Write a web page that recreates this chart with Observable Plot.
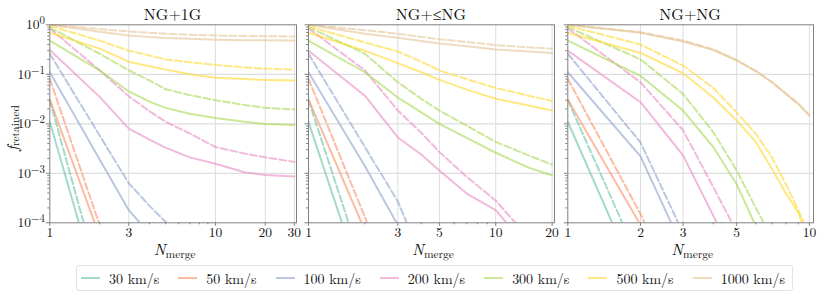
<!DOCTYPE html>
<html>
<head>
<meta charset="utf-8">
<script src="https://cdn.jsdelivr.net/npm/d3@7"></script>
<script src="https://cdn.jsdelivr.net/npm/@observablehq/plot@0.6"></script>
<style>
  html, body { margin: 0; padding: 0; background: #fff; }
  #root { position: relative; width: 830px; height: 305px; overflow: hidden;
    font-family: "Latin Modern Roman", "Liberation Serif", serif; color: #111; }
  .panel { position: absolute; top: 0; }
  #overlay { position: absolute; left: 0; top: 0; pointer-events: none; }
  #legend { position: absolute; left: 76px; top: 265px; width: 717px; height: 26px; box-sizing: border-box;
    border: 1px solid #e3e3e3; border-radius: 3px; display: flex; align-items: center; justify-content: space-between;
    padding: 0 7px 0 4px; font-size: 14px; font-family: "Latin Modern Roman", "Liberation Serif", serif; }
  .item { display: flex; align-items: center; white-space: nowrap; }
  .swatch { width: 19px; height: 2px; margin-right: 9px; }
</style>
</head>
<body>
<div id="root">
  <div id="legend"></div>
</div>
<script>
// ---------------- data ----------------
const speeds = [30, 50, 100, 200, 300, 500, 1000];
const legendLabels = ["30 km/s", "50 km/s", "100 km/s", "200 km/s", "300 km/s", "500 km/s", "1000 km/s"];
const colors = ["#66c2a5", "#fc8d62", "#8da0cb", "#e78ac3", "#a6d854", "#ffd92f", "#e5c494"];
const panelTitles = ["NG+1G", "NG+\u2264NG", "NG+NG"];

const yTicks = [1e-4, 1e-3, 1e-2, 1e-1, 1];
const yTickLabels = ["10^{\u22124}", "10^{\u22123}", "10^{\u22122}", "10^{\u22121}", "10^{0}"];

const xTicks1 = [1, 3, 10, 20, 30];
const xTicks2 = [1, 3, 5, 10, 20];
const xTicks3 = [1, 2, 3, 5, 10];

// NG+1G
const n1 = [1, 2, 3, 4, 5, 7, 10, 15, 20, 30];
const ng1g_solid = [
  [0.011, 3.5e-6],
  [0.031, 5.3e-5],
  [0.11, 0.0019, 1.8e-4, 6e-5],
  [0.31, 0.035, 0.008, 0.0048, 0.0033, 0.0021, 0.00156, 0.00105, 0.00092, 0.00086],
  [0.48, 0.12, 0.045, 0.028, 0.021, 0.016, 0.0131, 0.011, 0.0099, 0.0095],
  [0.69, 0.33, 0.18, 0.145, 0.125, 0.1, 0.085, 0.08, 0.077, 0.075],
  [1.0, 0.72, 0.61, 0.57, 0.54, 0.52, 0.50, 0.49, 0.485, 0.48]
];
const ng1g_dashed = [
  [0.03, 6.8e-6],
  [0.081, 9e-5],
  [0.26, 0.0058, 6.3e-4, 2.2e-4, 1.05e-4, 3e-5],
  [0.85, 0.12, 0.036, 0.018, 0.011, 0.0064, 0.0034, 0.0025, 0.0021, 0.0017],
  [0.88, 0.26, 0.12, 0.075, 0.05, 0.038, 0.03, 0.024, 0.021, 0.0195],
  [0.95, 0.48, 0.30, 0.24, 0.2, 0.175, 0.155, 0.138, 0.13, 0.125],
  [1.0, 0.82, 0.73, 0.69, 0.66, 0.63, 0.61, 0.595, 0.59, 0.58]
];

// NG+<=NG
const n2 = [1, 2, 3, 4, 5, 7, 10, 15, 20];
const nglng_solid = [
  [0.011, 4e-6],
  [0.031, 7e-5],
  [0.11, 0.0014, 9e-5],
  [0.30, 0.037, 0.0053, 0.0024, 0.00114, 3.9e-4, 1.8e-4, 3e-5],
  [0.48, 0.11, 0.034, 0.017, 0.01, 0.0052, 0.0026, 0.0013, 0.0009],
  [0.69, 0.30, 0.168, 0.11, 0.077, 0.049, 0.032, 0.0235, 0.0185],
  [1.0, 0.66, 0.545, 0.47, 0.42, 0.37, 0.317, 0.29, 0.27]
];
const nglng_dashed = [
  [0.03, 1e-5],
  [0.081, 1.3e-4, 3e-6],
  [0.26, 0.0034, 2.7e-4, 2e-5],
  [0.85, 0.12, 0.0185, 0.0066, 0.0027, 8.5e-4, 2.8e-4, 5e-5],
  [0.9, 0.26, 0.069, 0.032, 0.0185, 0.0092, 0.0043, 0.0023, 0.0015],
  [0.93, 0.44, 0.29, 0.18, 0.12, 0.08, 0.053, 0.037, 0.029],
  [1.0, 0.78, 0.66, 0.57, 0.51, 0.45, 0.39, 0.35, 0.33]
];

// NG+NG
const n3 = [1, 2, 3, 4, 5, 6, 7, 8, 9, 10];
const ngng_solid = [
  [0.011, 5e-6],
  [0.031, 9e-5],
  [0.11, 0.0022, 3e-5],
  [0.30, 0.0273, 0.0023, 1.4e-4, 1.6e-5],
  [0.48, 0.093, 0.0185, 0.0034, 6e-4, 8.6e-5],
  [0.69, 0.27, 0.105, 0.034, 0.0117, 0.0043, 0.00122, 3.9e-4, 1.6e-4, 4e-5],
  [1.0, 0.69, 0.46, 0.31, 0.19, 0.115, 0.069, 0.04, 0.025, 0.0147]
];
const ngng_dashed = [
  [0.03, 1.5e-5],
  [0.081, 1.5e-4, 2e-6],
  [0.26, 0.0042, 6.2e-5],
  [0.85, 0.069, 0.0074, 5.3e-4, 6.6e-5],
  [0.9, 0.2, 0.04, 0.0068, 0.00114, 2.0e-4, 4.9e-5],
  [0.95, 0.40, 0.15, 0.053, 0.017, 0.0063, 0.0021, 6e-4, 1.8e-4, 5.7e-5],
  [1.0, 0.71, 0.48, 0.32, 0.195, 0.118, 0.07, 0.041, 0.0255, 0.015]
];

// ---------------- drawing ----------------
const FONT = "Latin Modern Roman, Liberation Serif, serif";
const root = document.getElementById("root");
const AXIS = "#808080";
const GRID = "#dddddd";

function minorTicks(lo, hi) {
  const out = [];
  for (let e = Math.floor(Math.log10(lo)); e <= Math.ceil(Math.log10(hi)); e++) {
    for (let k = 2; k <= 9; k++) {
      const v = k * Math.pow(10, e);
      if (v > lo && v < hi) out.push(v);
    }
  }
  return out;
}

function panel(cfg) {
  const rows = [];
  speeds.forEach((s, i) => {
    cfg.solid[i].forEach((v, j) => rows.push({N: cfg.n[j], f: v, speed: s, style: "solid"}));
    cfg.dashed[i].forEach((v, j) => rows.push({N: cfg.n[j], f: v, speed: s, style: "dashed"}));
  });
  const lineMarks = speeds.flatMap(s => [
    Plot.line(rows.filter(r => r.speed === s && r.style === "solid"),
      {x: "N", y: "f", stroke: "speed", strokeWidth: 2, strokeOpacity: 0.6, clip: true}),
    Plot.line(rows.filter(r => r.speed === s && r.style === "dashed"),
      {x: "N", y: "f", stroke: "speed", strokeWidth: 2, strokeOpacity: 0.6, strokeDasharray: "7,3", clip: true})
  ]);
  const minorX = minorTicks(1, cfg.xmax).filter(v => !cfg.xticks.includes(v));
  const minorY = minorTicks(1e-4, 1);
  const yFmt = cfg.showY ? (d => yTickLabels[yTicks.findIndex(t => Math.abs(t - d) / t < 1e-6)]) : (() => "");
  const chart = Plot.plot({
    width: cfg.w, height: 245,
    marginLeft: cfg.ml, marginRight: cfg.mr, marginTop: 24.3, marginBottom: 22.7,
    x: {type: "log", domain: [1, cfg.xmax]},
    y: {type: "log", domain: [1e-4, 1]},
    color: {domain: speeds, range: colors},
    style: {fontFamily: FONT, fontSize: "13.5px", background: "transparent", overflow: "visible", color: "#111"},
    marks: [
      Plot.gridX(cfg.xticks.filter(t => t > 1 && t < cfg.xmax), {stroke: GRID, strokeOpacity: 1, strokeWidth: 1}),
      Plot.gridY(yTicks.filter(t => t > 1e-4 && t < 1), {stroke: GRID, strokeOpacity: 1, strokeWidth: 1.2}),
      ...lineMarks,
      Plot.frame({stroke: AXIS, strokeWidth: 1}),
      Plot.axisX(cfg.xticks, {ticks: Infinity, tickSize: 3.5, tickPadding: 1.5, tickFormat: d => String(d), label: null, stroke: AXIS, fill: "#111"}),
      Plot.axisX(minorX, {ticks: Infinity, tickSize: 2, tickFormat: () => "", label: null, stroke: AXIS}),
      Plot.axisY(yTicks, {ticks: Infinity, tickSize: 3.5, tickPadding: 1.5, tickFormat: yFmt, label: null, stroke: AXIS, fill: "#111"}),
      Plot.axisY(minorY, {ticks: Infinity, tickSize: 2, tickFormat: () => "", label: null, stroke: AXIS})
    ]
  });
  chart.classList.add("panel");
  chart.style.left = cfg.left + "px";
  chart.setAttribute("font-family", FONT);
  chart.style.fontFamily = FONT;
  root.appendChild(chart);
  chart.querySelectorAll("text").forEach(t => t.setAttribute("font-family", FONT));
  // superscript formatting of y tick labels
  chart.querySelectorAll('g[aria-label="y-axis tick label"] text').forEach(t => {
    const m = /^(\d+)\^\{(.+)\}$/.exec(t.textContent);
    if (!m) return;
    t.textContent = m[1];
    const sup = document.createElementNS("http://www.w3.org/2000/svg", "tspan");
    sup.setAttribute("dy", "-0.45em");
    sup.setAttribute("font-size", "0.8em");
    sup.textContent = m[2];
    t.appendChild(sup);
  });
}

panel({n: n1, solid: ng1g_solid, dashed: ng1g_dashed, xmax: 30.9, xticks: xTicks1, left: 0, w: 300, ml: 49.3, mr: 4, showY: true});
panel({n: n2, solid: nglng_solid, dashed: nglng_dashed, xmax: 20.6, xticks: xTicks2, left: 300, w: 258, ml: 8, mr: 4, showY: false});
panel({n: n3, solid: ngng_solid, dashed: ngng_dashed, xmax: 10.4, xticks: xTicks3, left: 558, w: 272, ml: 9.3, mr: 17, showY: false});

// titles and axis labels
const NS = "http://www.w3.org/2000/svg";
const ov = document.createElementNS(NS, "svg");
ov.setAttribute("id", "overlay");
ov.setAttribute("width", 830);
ov.setAttribute("height", 305);
ov.setAttribute("font-family", FONT);
ov.setAttribute("fill", "#111");
root.appendChild(ov);
const centers = [(49.3 + 296) / 2, (308 + 554) / 2, (567.3 + 813) / 2];
centers.forEach((cx, i) => {
  const t = document.createElementNS(NS, "text");
  t.setAttribute("x", cx); t.setAttribute("y", 20);
  t.setAttribute("text-anchor", "middle"); t.setAttribute("font-size", "16");
  t.setAttribute("font-family", FONT);
  t.textContent = panelTitles[i];
  ov.appendChild(t);
  const xl = document.createElementNS(NS, "text");
  xl.setAttribute("x", cx + 2); xl.setAttribute("y", 255);
  xl.setAttribute("text-anchor", "middle");
  xl.setAttribute("font-family", FONT);
  xl.innerHTML = '<tspan font-style="italic" font-size="16">N</tspan><tspan font-size="11.5" dy="3">merge</tspan>';
  ov.appendChild(xl);
});
const yl = document.createElementNS(NS, "text");
yl.setAttribute("transform", "translate(18,128) rotate(-90)");
yl.setAttribute("text-anchor", "middle");
yl.setAttribute("font-family", FONT);
yl.innerHTML = '<tspan font-style="italic" font-size="16">f</tspan><tspan font-size="11.5" dy="0.5">retained</tspan>';
ov.appendChild(yl);

// legend
const legend = document.getElementById("legend");
speeds.forEach((s, i) => {
  const item = document.createElement("div");
  item.className = "item";
  const sw = document.createElement("div");
  sw.className = "swatch";
  sw.style.background = colors[i];
  sw.style.opacity = 0.6;
  const lab = document.createElement("span");
  lab.textContent = legendLabels[i];
  item.appendChild(sw); item.appendChild(lab);
  legend.appendChild(item);
});
</script>
</body>
</html>
